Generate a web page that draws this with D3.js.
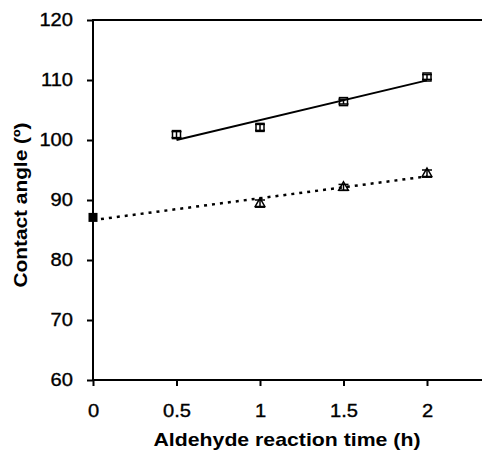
<!DOCTYPE html>
<html><head><meta charset="utf-8">
<script src="https://cdn.jsdelivr.net/npm/d3@7"></script>
<style>body{margin:0;background:#fff}svg{display:block}text{font-family:"Liberation Sans",Arial,sans-serif;fill:#000}</style>
</head><body><svg id="c" width="482" height="450"></svg>
<script>
const xTicks = [0, 0.5, 1, 1.5, 2];
const yTicks = [60, 70, 80, 90, 100, 110, 120];
const squareX = [0.5, 1, 1.5, 2];
const squareY = [100.9, 102.1, 106.4, 110.5];
const squareErr = [0.5, 0.5, 0.4, 0.4];
const triX = [1, 1.5, 2];
const triY = [89.4, 92.1, 94.4];
const triErr = [0.6, 0.5, 0.6];
const startX = [0];
const startY = [87.1];

const svg = d3.select("#c");
const x = d3.scaleLinear().domain([0, 2]).range([93, 427]);
const y = d3.scaleLinear().domain([60, 120]).range([380, 20]);
const stretch = 1.15;

svg.append("line").attr("x1", x(0)).attr("x2", 482).attr("y1", y(120)).attr("y2", y(120)).attr("stroke", "#000").attr("stroke-width", 2);
const xa = svg.append("g").attr("transform", `translate(0,${y(60)})`)
  .call(d3.axisBottom(x).tickValues(xTicks).tickSize(6).tickPadding(19).tickFormat(d3.format("")));
xa.select(".domain").remove();
svg.append("line").attr("x1", x(0) - 1).attr("x2", 482).attr("y1", y(60)).attr("y2", y(60)).attr("stroke", "#000").attr("stroke-width", 2);
const ya = svg.append("g").attr("transform", `translate(${x(0)},0)`)
  .call(d3.axisLeft(y).tickValues(yTicks).tickSize(6).tickPadding(14));
ya.select(".domain").attr("d", `M0,${y(120) - 1}V${y(60) + 1}`).attr("stroke-width", 2);
[xa, ya].forEach(a => {
  a.selectAll(".tick line").attr("stroke-width", 2);
  a.selectAll(".tick text").style("font-size", "17.5px").style("font-family", "Liberation Sans, Arial, sans-serif")
    .style("stroke", "#000").style("stroke-width", 0.35)
    .each(function () {
      const t = d3.select(this);
      const xx = +(t.attr("x") || 0);
      t.attr("x", 0).attr("transform", `translate(${xx},0) scale(${stretch},1)`);
    });
});

function fit(xs, ys) {
  const mx = d3.mean(xs), my = d3.mean(ys);
  const sxy = d3.sum(xs, (v, i) => (v - mx) * (ys[i] - my));
  const sxx = d3.sum(xs, v => (v - mx) * (v - mx));
  const b = sxy / sxx;
  return v => my + b * (v - mx);
}
const f1 = fit(squareX, squareY);
const allTX = startX.concat(triX), allTY = startY.concat(triY);
const f2 = fit(allTX, allTY);
const line = d3.line().x(d => x(d[0])).y(d => y(d[1]));
svg.append("path").attr("d", line([[0.5, f1(0.5)], [2, f1(2)]])).attr("stroke", "#000").attr("stroke-width", 2).attr("fill", "none");
svg.append("path").attr("d", line([[0, f2(0)], [2, f2(2)]])).attr("stroke", "#000").attr("stroke-width", 2.5).attr("stroke-dasharray", "3,5").attr("fill", "none");

function errBars(xs, ys, es) {
  const g = svg.append("g").attr("stroke", "#000").attr("stroke-width", 1.5);
  xs.forEach((v, i) => {
    const cx = x(v), t = y(ys[i] + es[i]), b = y(ys[i] - es[i]);
    g.append("line").attr("x1", cx).attr("x2", cx).attr("y1", t).attr("y2", b);
    g.append("line").attr("x1", cx - 5).attr("x2", cx + 5).attr("y1", t).attr("y2", t);
    g.append("line").attr("x1", cx - 5).attr("x2", cx + 5).attr("y1", b).attr("y2", b);
  });
}
errBars(squareX, squareY, squareErr);
errBars(triX, triY, triErr);

svg.append("g").selectAll("rect").data(squareX).join("rect")
  .attr("x", (d) => x(d) - 4).attr("y", (d, i) => y(squareY[i]) - 4)
  .attr("width", 8).attr("height", 8).attr("fill", "none").attr("stroke", "#000").attr("stroke-width", 1.5);
svg.append("g").selectAll("path").data(triX).join("path")
  .attr("transform", (d, i) => `translate(${x(d)},${y(triY[i])})`)
  .attr("d", d3.symbol(d3.symbolTriangle, 40)).attr("fill", "none").attr("stroke", "#000").attr("stroke-width", 1.5);
svg.append("g").selectAll("rect").data(startX).join("rect")
  .attr("x", d => x(d) - 4.5).attr("y", (d, i) => y(startY[i]) - 4.5)
  .attr("width", 9).attr("height", 9).attr("fill", "#000");

svg.append("text").attr("x", 287).attr("y", 446).attr("text-anchor", "middle")
  .attr("textLength", 267).attr("lengthAdjust", "spacingAndGlyphs")
  .style("font-size", "19px").style("font-weight", "bold").text("Aldehyde reaction time (h)");
svg.append("text").attr("transform", `translate(27,205) rotate(-90)`).attr("text-anchor", "middle")
  .attr("textLength", 165).attr("lengthAdjust", "spacingAndGlyphs")
  .style("font-size", "19px").style("font-weight", "bold").text("Contact angle (º)");
</script></body></html>
